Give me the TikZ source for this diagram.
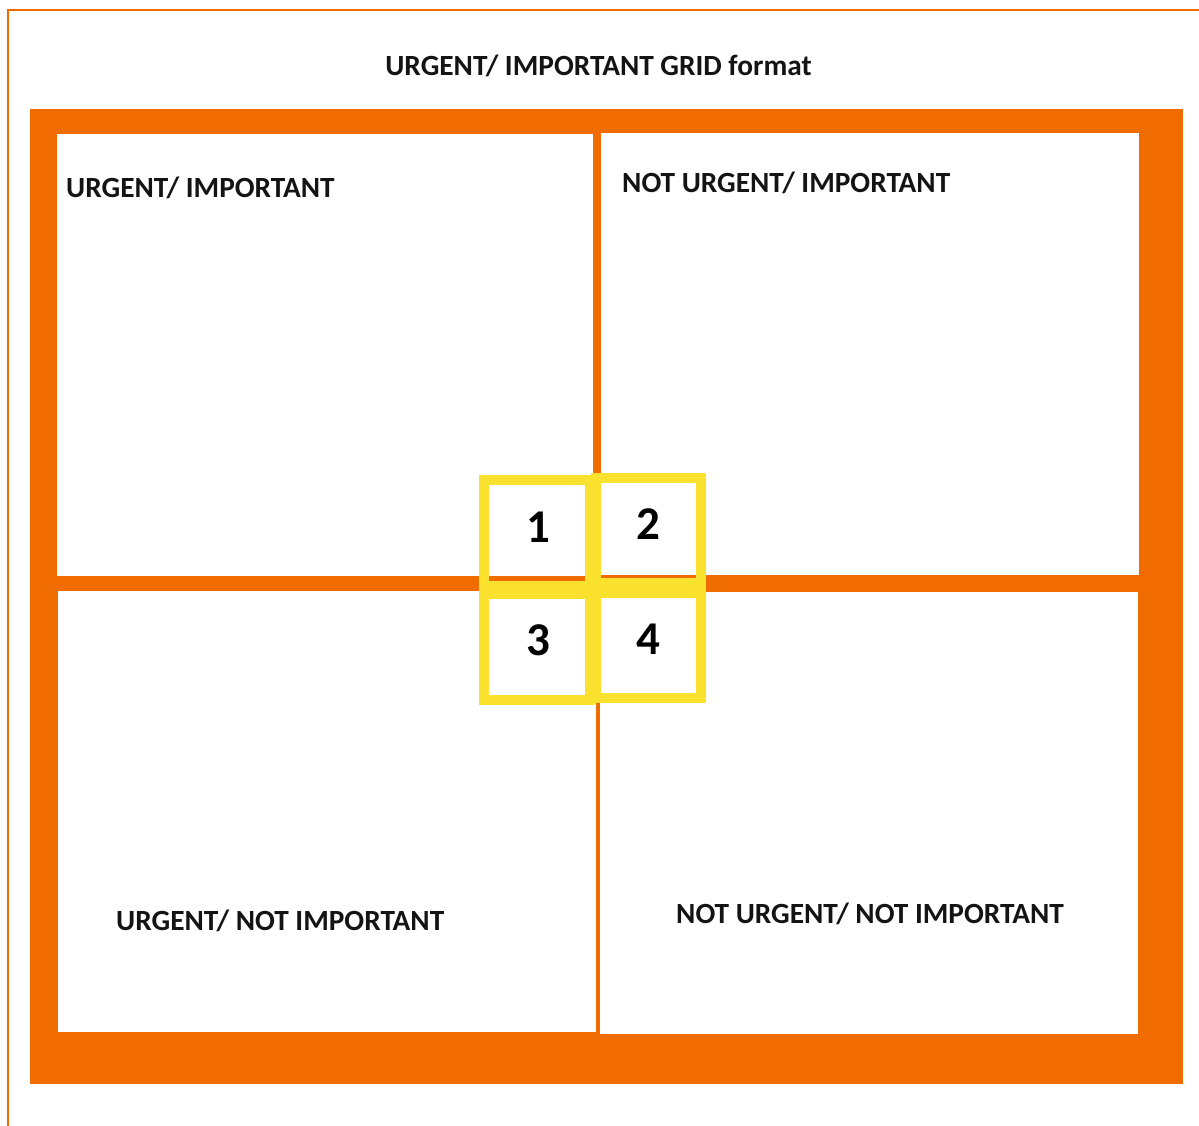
\documentclass[tikz,border=0pt]{standalone}
\usepackage{fontspec}
\setmainfont{Carlito}
\definecolor{gridorange}{HTML}{F06C00}
\definecolor{boxyellow}{HTML}{F9E12E}
\begin{document}
\begin{tikzpicture}[x=1pt,y=-1pt,
  lbl/.style={inner sep=0pt, anchor=base west, font=\bfseries\fontsize{29.3}{31}\selectfont, text=black!92},
  numlbl/.style={inner sep=0pt, anchor=base, font=\bfseries\fontsize{47}{48}\selectfont, text=black},
  quad/.style={fill=white, draw=none},
  ybox/.style={draw=boxyellow, line width=10pt}]
\useasboundingbox (0,0) rectangle (1199,1126);
\fill[white] (0,0) rectangle (1199,1126);
% thin outer frame
\draw[gridorange, line width=2pt] (8,1126) -- (8,10) -- (1199,10);
% title
\node[lbl, anchor=base] (title) at (598.5,75.5) {URGENT/ IMPORTANT GRID format};
% orange field
\fill[gridorange] (30,109) rectangle (1183,1084);
% white quadrants
\fill[quad] (57,134) rectangle (593,576);
\fill[quad] (601,133) rectangle (1139,575);
\fill[quad] (58,591) rectangle (596,1032);
\fill[quad] (600,592) rectangle (1138,1034);
% quadrant labels
\node[lbl] (tl) at (66,197.5) {URGENT/ IMPORTANT};
\node[lbl] (tr) at (622,192.5) {NOT URGENT/ IMPORTANT};
\node[lbl] (bl) at (116,930.5) {URGENT/ NOT IMPORTANT};
\node[lbl] (br) at (676,923.5) {NOT URGENT/ NOT IMPORTANT};
% yellow number boxes
\draw[ybox] (484,480) rectangle (590,586);
\draw[ybox] (596,478) rectangle (701,583);
\draw[ybox] (484,594) rectangle (590,700);
\draw[ybox] (596,593) rectangle (701,698);
\node[numlbl] (n1) at (538,542) {1};
\node[numlbl] (n2) at (648,539) {2};
\node[numlbl] (n3) at (538,655) {3};
\node[numlbl] (n4) at (648,654) {4};
\end{tikzpicture}
\end{document}
